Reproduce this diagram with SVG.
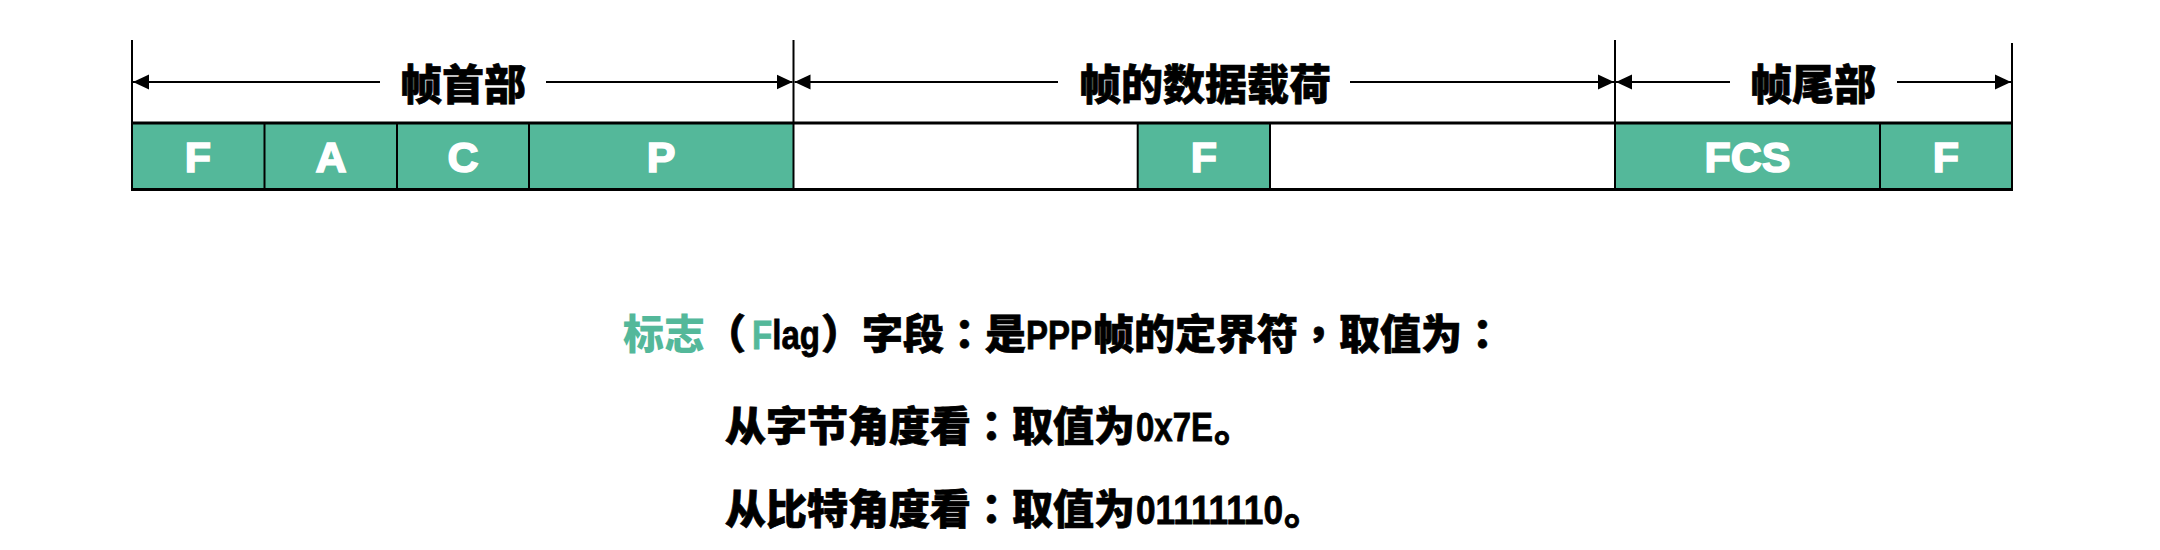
<svg xmlns="http://www.w3.org/2000/svg" width="2160" height="550" viewBox="0 0 2160 550">
<style>
.cell{fill:#54b89a;stroke:none}
.line{stroke:#000;stroke-width:2;fill:none}
.thick{stroke:#000;stroke-width:3;fill:none}
.boxlbl{font-family:"Liberation Sans",Arial,sans-serif;font-weight:bold;font-size:43px;fill:#fff;stroke:#fff;stroke-width:1.6px;text-anchor:middle}
.cjk{font-family:"Noto Sans CJK SC","Liberation Sans",sans-serif;font-weight:900;font-size:41px;fill:#000;stroke:#000;stroke-width:0.7px}
.hdr{font-family:"Noto Sans CJK SC","Liberation Sans",sans-serif;font-weight:900;font-size:42px;fill:#000;stroke:#000;stroke-width:0.7px;text-anchor:middle}
.lat{font-family:"Liberation Sans Narrow","Liberation Sans",Arial,sans-serif;font-weight:bold;stroke-width:0.8px}
.punc{font-family:"Noto Sans CJK TC","Noto Sans CJK SC",sans-serif}
.green{fill:#54b89a;stroke:#54b89a}
</style>
<defs>
<marker id="ah" markerUnits="userSpaceOnUse" markerWidth="16" markerHeight="16" viewBox="0 0 14 14" refX="14" refY="7" orient="auto-start-reverse">
<path d="M0,0.5 L14,7 L0,13.5 Z" fill="#000"/>
</marker>
</defs>

<g id="cells">
<rect class="cell" x="132" y="123" width="661.5" height="66.5"/>
<rect class="cell" x="1137.7" y="123" width="132.3" height="66.5"/>
<rect class="cell" x="1615" y="123" width="397" height="66.5"/>
</g>

<g id="frame">
<line class="thick" x1="131" y1="123" x2="2013" y2="123"/>
<line class="thick" x1="131" y1="189.5" x2="2013" y2="189.5"/>
<line class="line" x1="264.5" y1="123" x2="264.5" y2="189.5"/>
<line class="line" x1="397" y1="123" x2="397" y2="189.5"/>
<line class="line" x1="529" y1="123" x2="529" y2="189.5"/>
<line class="line" x1="1137.7" y1="123" x2="1137.7" y2="189.5"/>
<line class="line" x1="1270" y1="123" x2="1270" y2="189.5"/>
<line class="line" x1="1880" y1="123" x2="1880" y2="189.5"/>
</g>

<g id="node-F1"><text class="boxlbl" x="198" y="172">F</text></g>
<g id="node-A"><text class="boxlbl" x="331" y="172">A</text></g>
<g id="node-C"><text class="boxlbl" x="463" y="172">C</text></g>
<g id="node-P"><text class="boxlbl" x="661" y="172">P</text></g>
<g id="node-F2"><text class="boxlbl" x="1204" y="172">F</text></g>
<g id="node-FCS"><text class="boxlbl" x="1747.5" y="172">FCS</text></g>
<g id="node-F3"><text class="boxlbl" x="1946" y="172">F</text></g>

<g id="connectors">
<line class="line" x1="132" y1="40" x2="132" y2="190"/>
<line class="line" x1="793.5" y1="40" x2="793.5" y2="190"/>
<line class="line" x1="1615" y1="40" x2="1615" y2="190"/>
<line class="line" x1="2012" y1="43" x2="2012" y2="190"/>
<line class="line" x1="380" y1="82" x2="133" y2="82" marker-end="url(#ah)"/>
<line class="line" x1="546" y1="82" x2="792.5" y2="82" marker-end="url(#ah)"/>
<line class="line" x1="1058" y1="82" x2="794.5" y2="82" marker-end="url(#ah)"/>
<line class="line" x1="1350" y1="82" x2="1614" y2="82" marker-end="url(#ah)"/>
<line class="line" x1="1730" y1="82" x2="1616" y2="82" marker-end="url(#ah)"/>
<line class="line" x1="1897" y1="82" x2="2011" y2="82" marker-end="url(#ah)"/>
</g>

<g id="label-header"><text class="hdr" x="463" y="100">帧首部</text></g>
<g id="label-payload"><text class="hdr" x="1205" y="100">帧的数据载荷</text></g>
<g id="label-trailer"><text class="hdr" x="1813" y="100">帧尾部</text></g>

<g id="desc-line1">
<text class="cjk" x="623" y="349"><tspan class="green" style="stroke:none">标志</tspan><tspan class="punc">（</tspan><tspan class="lat" x="752" textLength="68" lengthAdjust="spacingAndGlyphs"><tspan class="green">F</tspan>lag</tspan><tspan class="punc" x="821">）</tspan>字段<tspan class="punc">：</tspan>是<tspan class="lat" x="1026" textLength="66" lengthAdjust="spacingAndGlyphs">PPP</tspan><tspan x="1093">帧的定界符</tspan><tspan class="punc">，</tspan>取值为<tspan class="punc">：</tspan></text>
</g>

<g id="desc-line2">
<text class="cjk" x="725" y="441">从字节角度看<tspan class="punc">：</tspan>取值为<tspan class="lat" x="1136" textLength="77" lengthAdjust="spacingAndGlyphs">0x7E</tspan><tspan x="1214">。</tspan></text>
</g>

<g id="desc-line3">
<text class="cjk" x="725" y="524">从比特角度看<tspan class="punc">：</tspan>取值为<tspan class="lat" x="1136" textLength="147" lengthAdjust="spacingAndGlyphs">01111110</tspan><tspan x="1284">。</tspan></text>
</g>
</svg>
